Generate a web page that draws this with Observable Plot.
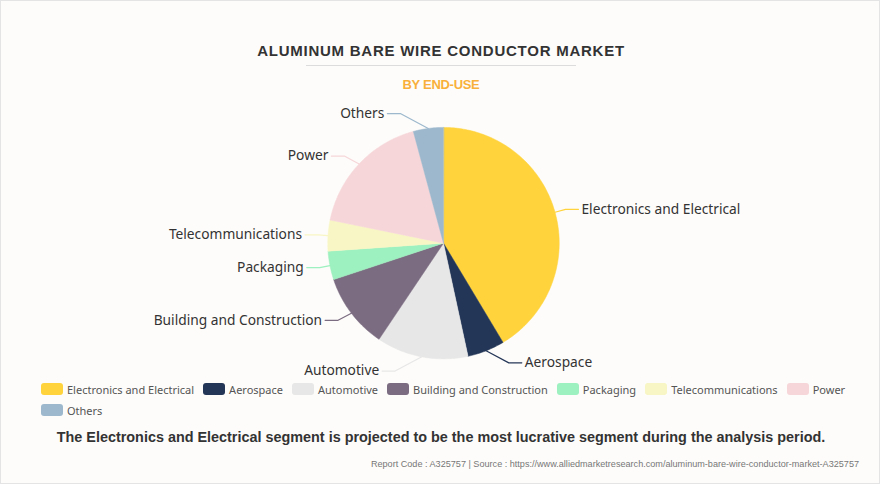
<!DOCTYPE html>
<html>
<head>
<meta charset="utf-8">
<script src="https://cdn.jsdelivr.net/npm/d3@7"></script>
<script src="https://cdn.jsdelivr.net/npm/@observablehq/plot@0.6"></script>
<style>
  html, body { margin: 0; padding: 0; background: #fdfcfa; }
  #frame { position: relative; width: 880px; height: 484px; box-sizing: border-box; border: 1px solid #e4e4e4; background: #fdfcfa; overflow: hidden; }
  #title { position: absolute; left: 0; width: 880px; top: 41px; text-align: center; font-family: "Liberation Sans", Arial, sans-serif; font-weight: bold; font-size: 15px; letter-spacing: 0.75px; color: #333; }
  #rule { position: absolute; left: 305px; width: 270px; top: 64px; height: 1px; background: #dcdcdc; }
  #subtitle { position: absolute; left: 0; width: 880px; top: 76px; text-align: center; font-family: "Liberation Sans", Arial, sans-serif; font-weight: bold; font-size: 13px; letter-spacing: -0.3px; color: #f9b03a; }
  #chart { position: absolute; left: 0; top: 95px; }
  #legend { position: absolute; left: 40px; top: 380px; width: 830px; display: flex; flex-wrap: wrap; row-gap: 5px; font-family: "Noto Sans", sans-serif; font-size: 11px; color: #555; }
  .item { display: flex; align-items: center; margin-right: 9px; height: 16px; }
  .sw { width: 22px; height: 12px; border-radius: 3px; margin-right: 4px; }
  #caption { position: absolute; left: 0; width: 880px; top: 428px; text-align: center; font-family: "Liberation Sans", Arial, sans-serif; font-weight: bold; font-size: 14.4px; color: #333; }
  #source { position: absolute; right: 20px; top: 458px; font-family: "Liberation Sans", Arial, sans-serif; font-size: 9.1px; color: #777; white-space: nowrap; }
</style>
</head>
<body>
<div id="frame">
  <div id="title"></div>
  <div id="rule"></div>
  <div id="subtitle"></div>
  <div id="chart"></div>
  <div id="legend"></div>
  <div id="caption"></div>
  <div id="source"></div>
</div>
<script>
const titleText = "ALUMINUM BARE WIRE CONDUCTOR MARKET";
const subtitleText = "BY END-USE";
const captionText = "The Electronics and Electrical segment is projected to be the most lucrative segment during the analysis period.";
const sourceText = "Report Code : A325757  |  Source : https://www.alliedmarketresearch.com/aluminum-bare-wire-conductor-market-A325757";

const categories = ["Electronics and Electrical", "Aerospace", "Automotive", "Building and Construction", "Packaging", "Telecommunications", "Power", "Others"];
const shares = [41.4, 5.2, 12.8, 10.5, 4.0, 4.3, 17.6, 4.2];
const colors = ["#fed33c", "#243657", "#e7e7e7", "#7c6c82", "#9df0bf", "#f8f6c4", "#f6d6d9", "#9db8cd"];

document.getElementById("title").textContent = titleText;
document.getElementById("subtitle").textContent = subtitleText;
document.getElementById("caption").textContent = captionText;
document.getElementById("source").textContent = sourceText;

const W = 880, H = 285;
const cx = 443, cy = 147;   // pie centre inside the svg
const R = 116;

const data = categories.map((name, i) => ({name, share: shares[i]}));
const arcs = d3.pie().sort(null).value(d => d.share)(data);

// slice polygons
const slicePts = [];
arcs.forEach(a => {
  const name = a.data.name;
  slicePts.push({name, x: 0, y: 0});
  const n = Math.max(4, Math.ceil((a.endAngle - a.startAngle) / (Math.PI / 180)));
  for (let k = 0; k <= n; k++) {
    const t = a.startAngle + (a.endAngle - a.startAngle) * k / n;
    slicePts.push({name, x: R * Math.sin(t), y: R * Math.cos(t)});
  }
});

// leader lines and labels (first segment kept at least ~62deg off vertical)
const minTilt = 62 * Math.PI / 180;
const leaderPts = [];
const labels = [];
arcs.forEach(a => {
  const name = a.data.name;
  const m = (a.startAngle + a.endAngle) / 2;
  const s = Math.sin(m), c = Math.cos(m);
  const right = s >= 0;
  const tilt = Math.max(Math.asin(Math.min(1, Math.abs(s))), minTilt);
  const L1 = 10 + 25 * (1 - Math.abs(s));
  const p1 = {x: R * s, y: R * c};
  const p2 = {x: p1.x + (right ? 1 : -1) * L1 * Math.sin(tilt), y: p1.y + (c >= 0 ? 1 : -1) * L1 * Math.cos(tilt)};
  const p3 = {x: p2.x + (right ? 13 : -13), y: p2.y};
  leaderPts.push({name, ...p1}, {name, ...p2}, {name, ...p3});
  labels.push({name, x: p3.x + (right ? 3 : -3), y: p3.y, anchor: right ? "start" : "end"});
});

const chart = Plot.plot({
  width: W,
  height: H,
  margin: 0,
  style: {background: "transparent", overflow: "visible"},
  x: {domain: [-cx, W - cx], range: [0, W], axis: null},
  y: {domain: [-(H - cy), cy], range: [H, 0], axis: null},
  color: {domain: categories, range: colors},
  marks: [
    Plot.line(slicePts, {x: "x", y: "y", z: "name", fill: "name", stroke: "name", strokeWidth: 0.5, curve: "linear-closed"}),
    Plot.line(leaderPts, {x: "x", y: "y", z: "name", stroke: "name", strokeWidth: 1.2}),
    Plot.text(labels.filter(d => d.anchor === "start"), {x: "x", y: "y", text: "name", textAnchor: "start", fill: "#333", fontSize: 13.8, fontFamily: "Noto Sans, sans-serif"}),
    Plot.text(labels.filter(d => d.anchor === "end"), {x: "x", y: "y", text: "name", textAnchor: "end", fill: "#333", fontSize: 13.8, fontFamily: "Noto Sans, sans-serif"})
  ]
});
document.getElementById("chart").appendChild(chart);

// legend
const legend = d3.select("#legend");
categories.forEach((name, i) => {
  const it = legend.append("div").attr("class", "item");
  it.append("div").attr("class", "sw").style("background", colors[i]);
  it.append("span").text(name);
});
</script>
</body>
</html>
